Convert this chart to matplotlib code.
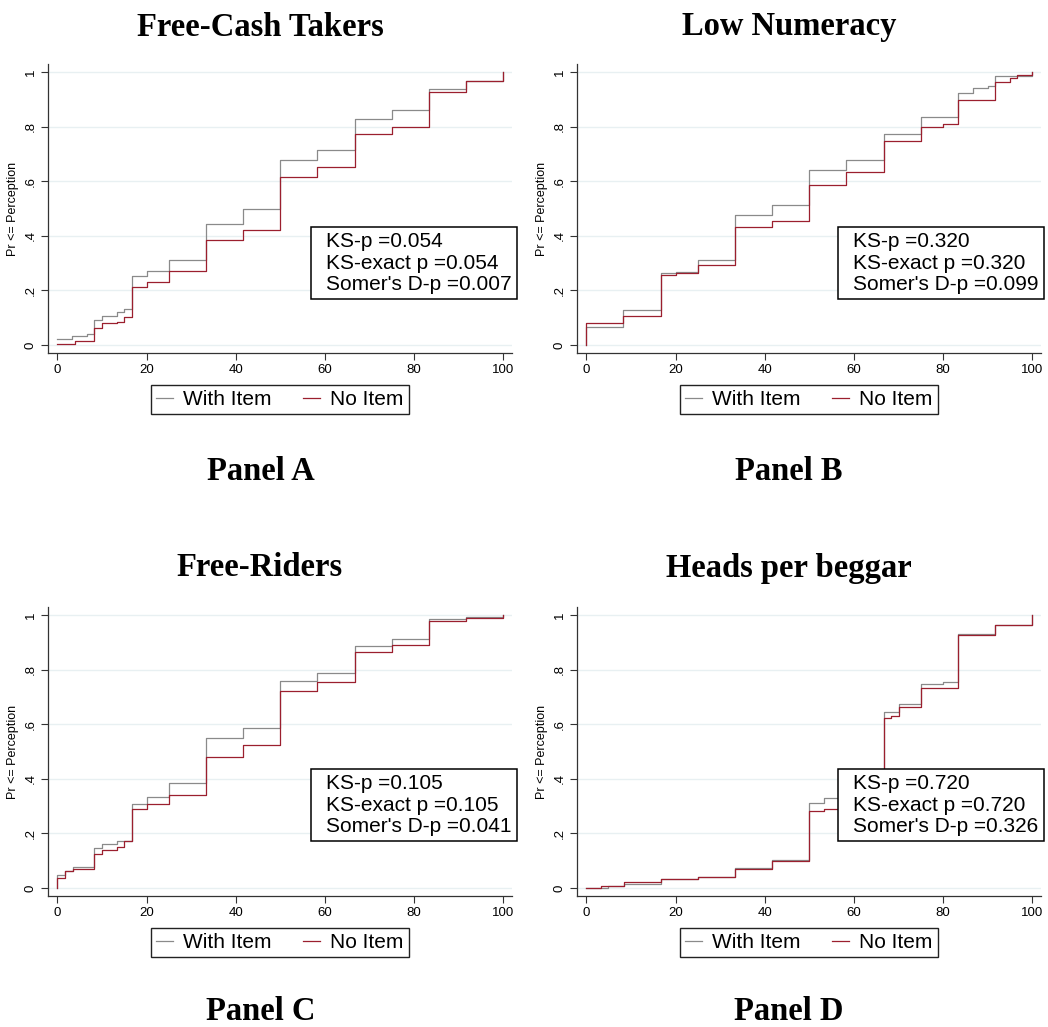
import matplotlib
matplotlib.use('Agg')
import matplotlib.pyplot as plt
from matplotlib.patches import Rectangle

plt.rcParams['font.family'] = ['Liberation Sans', 'DejaVu Sans']

# panel titles, footer labels and test p-values
titles = ['Free-Cash Takers', 'Low Numeracy', 'Free-Riders', 'Heads per beggar']
panels = ['Panel A', 'Panel B', 'Panel C', 'Panel D']
ks_p = ['0.054', '0.320', '0.105', '0.720']
ks_exact = ['0.054', '0.320', '0.105', '0.720']
somers_p = ['0.007', '0.099', '0.041', '0.326']

a_with_x = [0, 3.3, 6.6, 8.3, 10, 13.3, 15, 16.7, 20, 25, 33.3, 41.7, 50, 58.3, 66.7, 75, 83.3, 91.7, 100]
a_with_y = [0.024, 0.033, 0.042, 0.092, 0.106, 0.122, 0.131, 0.253, 0.273, 0.312, 0.444, 0.499, 0.678,
            0.715, 0.828, 0.859, 0.938, 0.968, 1.0]
a_no_x = [0, 4, 8.3, 10, 13.3, 15, 16.7, 20, 25, 33.3, 41.7, 50, 58.3, 66.7, 75, 83.3, 91.7, 100]
a_no_y = [0.004, 0.014, 0.061, 0.079, 0.086, 0.104, 0.214, 0.232, 0.273, 0.384, 0.422, 0.617, 0.652,
          0.774, 0.798, 0.927, 0.966, 1.0]

b_with_x = [0, 0, 8.3, 16.7, 20, 25, 33.3, 41.7, 50, 58.3, 66.7, 75, 83.3, 86.8, 90, 91.7, 100]
b_with_y = [0.0, 0.067, 0.128, 0.263, 0.269, 0.312, 0.476, 0.511, 0.642, 0.676, 0.773, 0.835, 0.923,
            0.941, 0.950, 0.984, 1.0]
b_no_x = [0, 0, 8.3, 16.7, 20, 25, 33.3, 41.7, 50, 58.3, 66.7, 75, 80, 83.3, 91.7, 95, 96.7, 100]
b_no_y = [0.0, 0.079, 0.106, 0.257, 0.263, 0.293, 0.434, 0.456, 0.587, 0.633, 0.748, 0.797, 0.809,
          0.899, 0.962, 0.976, 0.990, 1.0]

c_with_x = [0, 0, 1.7, 3.4, 8.3, 10, 13.3, 16.7, 20, 25, 33.3, 41.7, 50, 58.3, 66.7, 75, 83.3, 91.7, 100]
c_with_y = [0.0, 0.047, 0.064, 0.077, 0.147, 0.163, 0.174, 0.308, 0.333, 0.384, 0.550, 0.585, 0.759,
            0.788, 0.885, 0.911, 0.984, 0.994, 1.0]
c_no_x = [0, 0, 1.7, 3.4, 8.3, 10, 13.3, 15, 16.7, 20, 25, 33.3, 41.7, 50, 58.3, 66.7, 75, 83.3, 91.7, 100]
c_no_y = [0.0, 0.037, 0.061, 0.070, 0.126, 0.141, 0.149, 0.174, 0.291, 0.306, 0.340, 0.480, 0.524,
          0.720, 0.755, 0.863, 0.891, 0.976, 0.988, 1.0]

d_with_x = [0, 4.8, 8.5, 16.7, 25, 33.3, 41.7, 50, 53.4, 58.3, 66.7, 68.3, 70.2, 75, 80, 83.3, 91.7, 100]
d_with_y = [0.0, 0.006, 0.015, 0.034, 0.041, 0.073, 0.104, 0.312, 0.330, 0.336, 0.643, 0.646, 0.673,
            0.747, 0.753, 0.930, 0.963, 1.0]
d_no_x = [0, 3.3, 8.5, 16.7, 25, 33.3, 41.7, 50, 53.4, 57, 66.7, 68.3, 70.2, 75, 83.3, 91.7, 100]
d_no_y = [0.0, 0.006, 0.021, 0.034, 0.039, 0.071, 0.098, 0.281, 0.290, 0.303, 0.624, 0.630, 0.663,
          0.731, 0.927, 0.963, 1.0]

series = [(a_with_x, a_with_y, a_no_x, a_no_y),
          (b_with_x, b_with_y, b_no_x, b_no_y),
          (c_with_x, c_with_y, c_no_x, c_no_y),
          (d_with_x, d_with_y, d_no_x, d_no_y)]

W, H = 1048, 1027
fig = plt.figure(figsize=(W / 100, H / 100), dpi=100)

# axes boxes in pixels: left, top
ax_px = [(48, 64), (577, 64), (48, 607), (577, 607)]
ax_w, ax_h = 464, 289
title_px = [(260, 27), (789, 27), (260, 568), (789, 568)]
panel_px = [(261, 472), (789, 472), (261, 1012), (789, 1012)]
box_px = [(311, 227), (838, 227), (311, 769), (838, 769)]
box_w, box_h = 206, 72

gray = '#8a8a8a'
red = '#9b1f2e'

for i in range(4):
    l, t = ax_px[i]
    ax = fig.add_axes([l / W, 1 - (t + ax_h) / H, ax_w / W, ax_h / H])
    wx, wy, nx, ny = series[i]
    ax.plot(wx, wy, drawstyle='steps-post', color=gray, lw=0.9, label='With Item')
    ax.plot(nx, ny, drawstyle='steps-post', color=red, lw=0.9, label='No Item')
    ax.set_xlim(-2.1, 102.0)
    ax.set_ylim(-0.029, 1.029)
    ax.set_xticks([0, 20, 40, 60, 80, 100])
    ax.set_yticks([0, 0.2, 0.4, 0.6, 0.8, 1])
    ax.set_yticklabels(['0', '.2', '.4', '.6', '.8', '1'], rotation=90, va='center')
    ax.tick_params(labelsize=9.5, length=5, width=0.8, color='#333333', pad=3)
    ax.grid(axis='y', color='#e8f0f2', lw=1)
    ax.set_axisbelow(True)
    for s in ['top', 'right']:
        ax.spines[s].set_visible(False)
    for s in ['left', 'bottom']:
        ax.spines[s].set_color('#333333')
        ax.spines[s].set_linewidth(0.9)
    ax.set_ylabel('Pr <= Perception', fontsize=9, labelpad=4)
    ax.legend(loc='center', bbox_to_anchor=(0.5, -0.161), ncol=2, fontsize=15,
              frameon=True, fancybox=False, edgecolor='#222222', framealpha=1,
              handlelength=0.8, handletextpad=0.5, columnspacing=1.5, borderpad=0.25)

    tx, ty = title_px[i]
    fig.text(tx / W, 1 - ty / H, titles[i], ha='center', va='center',
             fontsize=23.5, fontweight='bold', family=['Liberation Serif', 'DejaVu Serif'])
    px, py = panel_px[i]
    fig.text(px / W, 1 - py / H, panels[i], ha='center', va='center',
             fontsize=23.5, fontweight='bold', family=['Liberation Serif', 'DejaVu Serif'])

    bx, by = box_px[i]
    fig.patches.append(Rectangle((bx / W, 1 - (by + box_h) / H), box_w / W, box_h / H,
                                 transform=fig.transFigure, facecolor='white',
                                 edgecolor='black', lw=1.1, zorder=5))
    lines = ['KS-p =' + ks_p[i], 'KS-exact p =' + ks_exact[i], "Somer's D-p =" + somers_p[i]]
    for k, txt in enumerate(lines):
        fig.text((bx + 15) / W, 1 - (by + 14.5 + 21.7 * k) / H, txt, ha='left', va='center',
                 fontsize=15, zorder=6)

fig.savefig('out.png', dpi=100)
